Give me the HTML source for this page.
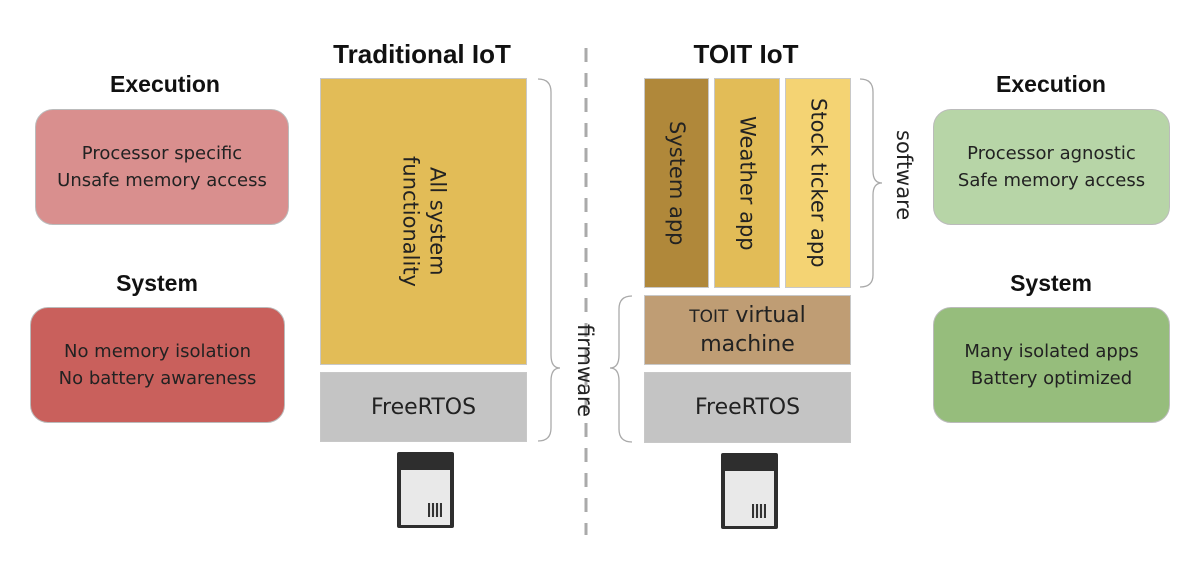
<!DOCTYPE html>
<html><head><meta charset="utf-8"><style>
body{margin:0;width:1204px;height:568px;background:#fff;position:relative;overflow:hidden;font-family:"DejaVu Sans","Liberation Sans",sans-serif;color:#222}
.a{position:absolute;box-sizing:border-box}
.h{position:absolute;font-family:"Liberation Sans",sans-serif;font-weight:bold;font-size:23px;color:#111;text-align:center;transform:translateX(-50%);white-space:nowrap}
.rb{position:absolute;box-sizing:border-box;border-radius:18px;border:1px solid #bbb;display:flex;align-items:center;justify-content:center;text-align:center;font-size:18px;line-height:27px}
.bx{position:absolute;box-sizing:border-box;border:1px solid #c8c8c8;display:flex;align-items:center;justify-content:center;text-align:center;font-size:21px;line-height:27px}
.v{writing-mode:vertical-rl;white-space:nowrap}
.chip{position:absolute;width:57px;height:76px;background:#2e2e2e;border-radius:2px}
.chip div{position:absolute;left:4px;right:4px;top:18px;bottom:3px;background:#e9e9e9}
.chip i{position:absolute;right:8px;bottom:8px;width:14px;height:14px;background:repeating-linear-gradient(90deg,#333 0 2px,#ddd 2px 4px)}
</style></head><body>
<div class="h" style="left:165px;top:71px">Execution</div>
<div class="h" style="left:157px;top:270px">System</div>
<div class="h" style="left:422px;top:39px;font-size:26px">Traditional IoT</div>
<div class="h" style="left:746px;top:39px;font-size:26px">TOIT IoT</div>
<div class="h" style="left:1051px;top:71px">Execution</div>
<div class="h" style="left:1051px;top:270px">System</div>

<div class="rb" style="left:35px;top:109px;width:254px;height:116px;background:#d98f8e">Processor specific<br>Unsafe memory access</div>
<div class="rb" style="left:30px;top:307px;width:255px;height:116px;background:#c9605c">No memory isolation<br>No battery awareness</div>
<div class="rb" style="left:933px;top:109px;width:237px;height:116px;background:#b7d5a7">Processor agnostic<br>Safe memory access</div>
<div class="rb" style="left:933px;top:307px;width:237px;height:116px;background:#96bd7c">Many isolated apps<br>Battery optimized</div>

<div class="bx" style="left:320px;top:78px;width:207px;height:287px;background:#e2bc57"><span class="v" style="line-height:27px">All system<br>functionality</span></div>
<div class="bx" style="left:320px;top:372px;width:207px;height:70px;background:#c4c4c4;font-size:22px">FreeRTOS</div>

<div class="bx" style="left:644px;top:78px;width:65px;height:210px;background:#b0883a"><span class="v">System app</span></div>
<div class="bx" style="left:714px;top:78px;width:66px;height:210px;background:#e2bc57"><span class="v">Weather app</span></div>
<div class="bx" style="left:785px;top:78px;width:66px;height:210px;background:#f4d373"><span class="v">Stock ticker app</span></div>
<div class="bx" style="left:644px;top:295px;width:207px;height:70px;background:#bf9d74;font-size:22px"><span><span style="font-size:17px">TOIT</span> virtual<br>machine</span></div>
<div class="bx" style="left:644px;top:372px;width:207px;height:71px;background:#c4c4c4;font-size:22px">FreeRTOS</div>

<svg class="a" style="left:0;top:0" width="1204" height="568">
<line x1="586" y1="48" x2="586" y2="535" stroke="#aaa" stroke-width="3" stroke-dasharray="14,11"/>
<g fill="none" stroke="#aaa" stroke-width="1.3">
<path d="M538 79 Q551 79 551 92 L551 355 Q551 368 560 368 Q551 368 551 381 L551 428 Q551 441 538 441"/>
<path d="M860 79 Q873 79 873 92 L873 171 Q873 183 882 183 Q873 183 873 195 L873 275 Q873 287 860 287"/>
<path d="M632 296 Q619 296 619 309 L619 355 Q619 368 610 368 Q619 368 619 381 L619 429 Q619 442 632 442"/>
</g>
</svg>
<div class="a v" style="left:573px;top:324px;font-size:21px">firmware</div>
<div class="a v" style="left:892px;top:130px;font-size:21px">software</div>

<div class="chip" style="left:397px;top:452px"><div><i></i></div></div>
<div class="chip" style="left:721px;top:453px"><div><i></i></div></div>
</body></html>
